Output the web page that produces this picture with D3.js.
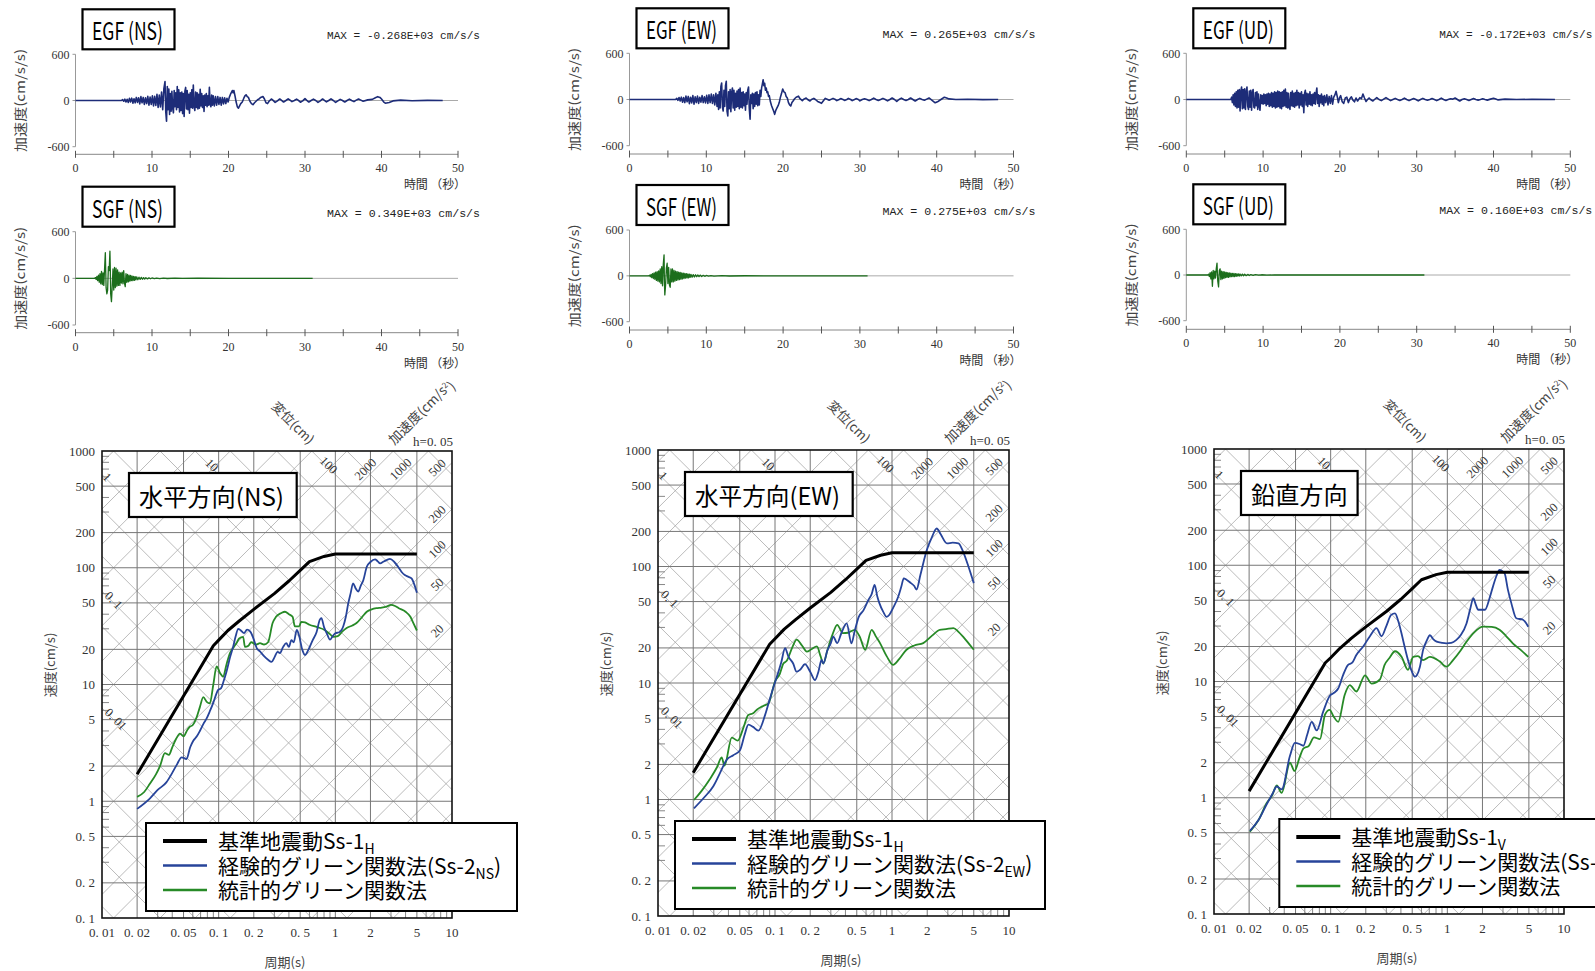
<!DOCTYPE html>
<html><head><meta charset="utf-8">
<script src="https://cdn.jsdelivr.net/npm/d3@7"></script>
<style>body{margin:0;background:#fff;overflow:hidden}svg{display:block}</style>
</head><body><svg id="c" width="1595" height="971"></svg>
<script>
// ---------------- DATA ----------------
// Time histories [time (s), acceleration (cm/s/s)]
const egfNS = [[0,0],[6.0,0],[6.15,12],[6.3,-10],[6.45,18],[6.6,-20],[6.75,15],[6.9,-25],[7.05,28],[7.2,-18],[7.35,30],[7.5,-35],[7.65,22],[7.8,-30],[7.95,40],[8.1,-25],[8.25,35],[8.4,-45],[8.55,50],[8.7,-30],[8.85,40],[9.0,-50],[9.15,35],[9.3,-40],[9.45,55],[9.6,-60],[9.75,45],[9.9,-50],[10.05,60],[10.2,-70],[10.35,55],[10.5,-65],[10.65,80],[10.8,-90],[10.95,70],[11.1,-85],[11.25,110],[11.4,-120],[11.55,150],[11.7,245],[11.8,-150],[11.9,-268],[12.0,180],[12.1,-120],[12.2,150],[12.3,-180],[12.4,90],[12.5,-140],[12.6,120],[12.7,-100],[12.8,-160],[12.9,130],[13.0,-80],[13.1,100],[13.2,-120],[13.3,180],[13.4,-90],[13.5,140],[13.6,-150],[13.7,100],[13.8,-130],[13.9,110],[14.0,-170],[14.1,90],[14.2,-207],[14.3,120],[14.4,170],[14.5,-110],[14.6,130],[14.7,-120],[14.8,80],[14.9,-164],[15.0,100],[15.1,-90],[15.2,140],[15.3,-100],[15.4,200],[15.5,-80],[15.6,-130],[15.7,110],[15.8,-90],[15.9,100],[16.0,-110],[16.1,80],[16.2,-100],[16.3,147],[16.4,-70],[16.5,90],[16.6,-90],[16.7,60],[16.8,-142],[16.9,70],[17.0,-60],[17.1,90],[17.2,-80],[17.3,60],[17.4,-60],[17.5,170],[17.6,-50],[17.7,-80],[17.8,70],[17.9,-60],[18.0,60],[18.15,-70],[18.3,50],[18.45,-60],[18.6,50],[18.75,-50],[18.9,40],[19.05,-60],[19.2,40],[19.35,-45],[19.5,35],[19.65,-40],[19.8,30],[19.95,-20],[20.1,40],[20.3,90],[20.5,130],[20.6,100],[20.7,130],[20.85,60],[21.0,-20],[21.15,-80],[21.3,-100],[21.45,-70],[21.6,-40],[21.8,-20],[22.0,30],[22.15,60],[22.3,75],[22.45,50],[22.6,40],[22.8,-10],[23.0,-40],[23.2,-55],[23.4,-30],[23.6,-10],[23.8,10],[24.0,20],[24.2,40],[24.5,52],[24.7,20],[24.9,-30],[25.1,-40],[25.3,-10],[25.6,20],[25.8,5],[26.1,-25],[26.4,-5],[26.7,20],[26.9,5],[27.2,-20],[27.5,0],[27.8,22],[28.0,8],[28.3,-15],[28.6,0],[28.9,18],[29.1,5],[29.4,-22],[29.7,-5],[30.0,25],[30.2,5],[30.5,-20],[30.8,0],[31.1,18],[31.4,0],[31.7,-25],[32.0,-5],[32.3,20],[32.5,5],[32.8,-18],[33.1,0],[33.4,22],[33.7,0],[34.0,-25],[34.3,-5],[34.6,15],[34.9,0],[35.2,-20],[35.5,0],[35.8,18],[36.1,0],[36.4,-15],[36.7,5],[37.0,20],[37.3,5],[37.6,-10],[38.2,8],[38.8,15],[39.2,35],[39.5,50],[39.8,40],[40.0,20],[40.3,-20],[40.5,-35],[41.0,-25],[41.5,-5],[42.5,5],[44,-3],[46,2],[48,0]];
const egfEW = [[0,0],[6.0,0],[6.15,15],[6.3,-12],[6.45,25],[6.6,-20],[6.75,30],[6.9,-35],[7.05,25],[7.2,-40],[7.35,45],[7.5,-30],[7.65,40],[7.8,-55],[7.95,30],[8.1,-45],[8.25,50],[8.4,-60],[8.55,35],[8.7,-40],[8.85,45],[9.0,-50],[9.15,30],[9.3,-35],[9.45,50],[9.6,-40],[9.75,35],[9.9,-45],[10.05,55],[10.2,-50],[10.35,60],[10.5,-40],[10.65,70],[10.8,-50],[10.95,60],[11.1,-70],[11.25,80],[11.4,-90],[11.5,60],[11.6,-130],[11.7,100],[11.8,-110],[11.9,170],[12.0,214],[12.1,-100],[12.2,-150],[12.3,120],[12.4,-90],[12.5,180],[12.6,236],[12.7,-150],[12.8,-214],[12.9,100],[13.0,-120],[13.1,130],[13.2,-160],[13.3,90],[13.4,150],[13.5,-110],[13.6,120],[13.7,-140],[13.8,80],[13.9,-100],[14.0,110],[14.1,-90],[14.2,130],[14.3,-120],[14.4,150],[14.5,-100],[14.6,90],[14.7,-110],[14.8,100],[14.9,-80],[15.0,70],[15.1,-140],[15.2,90],[15.3,-60],[15.4,120],[15.5,163],[15.6,-120],[15.7,-257],[15.8,60],[15.9,-50],[16.0,80],[16.1,-120],[16.2,70],[16.3,-90],[16.4,90],[16.5,-60],[16.6,100],[16.7,-80],[16.8,60],[16.9,-70],[17.0,120],[17.1,40],[17.2,150],[17.3,200],[17.4,257],[17.5,180],[17.6,210],[17.7,120],[17.8,150],[17.9,90],[18.0,100],[18.1,40],[18.2,50],[18.35,-30],[18.5,-80],[18.65,-120],[18.8,-160],[18.9,-193],[19.05,-140],[19.2,-110],[19.35,-80],[19.5,-40],[19.65,30],[19.8,80],[19.95,137],[20.1,100],[20.25,90],[20.4,40],[20.55,20],[20.7,-40],[20.85,-70],[21.0,-85],[21.15,-40],[21.3,-20],[21.5,10],[21.7,30],[22.0,43],[22.2,10],[22.5,-15],[22.7,5],[23.0,20],[23.2,0],[23.5,-20],[23.7,0],[24.0,15],[24.2,0],[24.5,-25],[24.8,-40],[25.0,-50],[25.3,-10],[25.5,15],[25.8,0],[26.0,-10],[26.3,5],[26.5,15],[26.8,0],[27.0,-15],[27.3,0],[27.5,12],[27.8,0],[28.0,-12],[28.3,0],[28.5,15],[28.8,0],[29.0,-15],[29.3,0],[29.5,12],[29.8,0],[30.0,-18],[30.3,0],[30.6,10],[30.9,0],[31.2,-15],[31.5,0],[31.8,18],[32.1,0],[32.4,-12],[32.7,0],[33.0,15],[33.3,0],[33.6,-18],[33.9,0],[34.2,20],[34.5,0],[34.8,-25],[35.1,0],[35.4,18],[35.7,0],[36.0,-12],[36.3,0],[36.6,20],[36.9,0],[37.2,-20],[37.5,0],[37.8,15],[38.1,0],[38.4,-10],[38.7,5],[39.0,20],[39.4,-10],[39.8,-43],[40.1,-30],[40.4,-10],[40.7,10],[41.0,30],[41.3,20],[41.6,8],[42.5,0],[44,3],[46,-2],[48,0]];
const egfUD = [[0,0],[5.8,0],[5.9,30],[6.0,-40],[6.1,60],[6.2,-70],[6.3,80],[6.4,-90],[6.5,100],[6.6,-110],[6.7,120],[6.8,-100],[6.9,130],[7.0,-150],[7.1,110],[7.2,163],[7.3,-120],[7.4,130],[7.5,-110],[7.6,140],[7.7,-130],[7.8,100],[7.9,163],[8.0,-90],[8.1,-130],[8.2,110],[8.3,-100],[8.4,120],[8.5,-140],[8.6,90],[8.7,130],[8.8,-100],[8.9,-110],[9.0,90],[9.1,-80],[9.2,100],[9.3,-130],[9.4,70],[9.5,-90],[9.6,-140],[9.7,60],[9.8,-50],[9.9,50],[10.0,-60],[10.1,70],[10.2,-50],[10.3,60],[10.4,-80],[10.5,70],[10.6,-60],[10.7,80],[10.8,-90],[10.9,70],[11.0,-80],[11.1,90],[11.2,-100],[11.3,80],[11.4,-90],[11.5,100],[11.6,-110],[11.7,90],[11.8,-100],[11.9,110],[12.0,-90],[12.1,100],[12.2,-110],[12.3,90],[12.4,-120],[12.5,100],[12.6,-90],[12.7,120],[12.8,-80],[12.9,137],[13.0,-100],[13.1,90],[13.2,-110],[13.3,80],[13.4,-100],[13.5,-128],[13.6,90],[13.7,-80],[13.8,110],[13.9,-90],[14.0,80],[14.1,-100],[14.2,90],[14.3,-80],[14.4,120],[14.5,-70],[14.6,90],[14.7,-110],[14.8,80],[14.9,-70],[15.0,100],[15.1,-90],[15.2,60],[15.3,-172],[15.4,80],[15.5,120],[15.6,-70],[15.7,80],[15.8,-90],[15.9,70],[16.0,-60],[16.1,100],[16.2,-70],[16.3,60],[16.4,-80],[16.5,70],[16.6,-50],[16.7,90],[16.8,-60],[16.9,80],[17.0,150],[17.1,-50],[17.2,60],[17.3,-90],[17.4,50],[17.5,-40],[17.6,70],[17.7,-60],[17.8,40],[17.9,-80],[18.0,50],[18.15,-40],[18.3,60],[18.45,-70],[18.6,40],[18.75,-50],[18.9,50],[19.05,-60],[19.2,30],[19.35,60],[19.5,107],[19.65,40],[19.8,-40],[19.95,20],[20.1,50],[20.3,-30],[20.5,-50],[20.7,20],[20.9,30],[21.1,-40],[21.3,10],[21.5,35],[21.7,-10],[21.9,-30],[22.1,20],[22.3,-20],[22.6,25],[22.8,10],[23.0,70],[23.2,20],[23.4,-25],[23.6,0],[23.8,20],[24.0,0],[24.3,-20],[24.5,0],[24.8,25],[25.1,0],[25.4,-15],[25.7,5],[26.0,25],[26.3,5],[26.6,-15],[26.9,0],[27.2,15],[27.5,0],[27.8,-12],[28.1,0],[28.4,18],[28.7,0],[29.0,-15],[29.3,0],[29.6,12],[29.9,0],[30.2,-18],[30.5,0],[30.8,15],[31.1,0],[31.4,-10],[31.7,0],[32.0,12],[32.3,0],[32.6,-15],[32.9,0],[33.2,18],[33.5,0],[33.8,-12],[34.1,0],[34.4,10],[34.7,5],[35.0,20],[35.3,0],[35.6,-20],[35.9,0],[36.2,10],[36.5,0],[36.8,-12],[37.1,0],[37.4,12],[37.7,0],[38.0,-8],[38.3,0],[38.6,10],[38.9,0],[39.2,-8],[39.6,5],[40.0,15],[40.3,5],[40.6,-5],[41.5,5],[43,0],[45,2],[48,0]];
const sgfNS = [[0,0],[2.5,0],[2.6,10],[2.7,-15],[2.8,25],[2.9,-30],[3.0,40],[3.1,-50],[3.2,60],[3.3,-70],[3.4,90],[3.5,-80],[3.6,70],[3.7,-90],[3.8,120],[3.9,330],[3.95,100],[4.0,-120],[4.1,-200],[4.2,-150],[4.3,150],[4.4,100],[4.5,349],[4.55,120],[4.6,-200],[4.7,-300],[4.8,-100],[4.9,120],[5.0,-150],[5.1,140],[5.2,-120],[5.3,130],[5.4,-100],[5.5,110],[5.6,-90],[5.7,80],[5.8,-90],[5.9,70],[6.0,-60],[6.1,80],[6.2,-70],[6.3,100],[6.4,-60],[6.5,-107],[6.6,60],[6.7,-50],[6.8,50],[6.9,-45],[7.0,40],[7.1,-35],[7.2,38],[7.3,-30],[7.4,30],[7.5,-28],[7.6,25],[7.7,-25],[7.8,22],[7.9,-20],[8.0,20],[8.15,-18],[8.3,15],[8.45,-14],[8.6,12],[8.75,-12],[8.9,10],[9.05,-9],[9.2,8],[9.4,-7],[9.6,6],[9.8,-5],[10.0,5],[10.3,-4],[10.6,4],[11.0,-3],[11.5,3],[12,-2],[13,2],[14,-1],[16,1],[20,0],[31,0]];
const sgfEW = [[0,0],[2.5,0],[2.6,8],[2.7,-12],[2.8,18],[2.9,-22],[3.0,30],[3.1,-35],[3.2,40],[3.3,-45],[3.4,50],[3.5,-60],[3.6,55],[3.7,-70],[3.8,65],[3.9,-80],[4.0,90],[4.1,-100],[4.2,120],[4.3,-130],[4.4,150],[4.5,275],[4.55,-100],[4.6,-250],[4.7,-120],[4.8,100],[4.9,165],[5.0,-100],[5.1,110],[5.2,-120],[5.3,-150],[5.4,90],[5.5,-80],[5.6,90],[5.7,-80],[5.8,70],[5.9,-70],[6.0,60],[6.1,-60],[6.2,55],[6.3,-55],[6.4,50],[6.5,-50],[6.6,45],[6.7,-45],[6.8,40],[6.9,-40],[7.0,35],[7.1,-35],[7.2,32],[7.3,-30],[7.4,30],[7.5,-28],[7.6,25],[7.7,-25],[7.8,22],[7.9,-20],[8.0,20],[8.15,-18],[8.3,16],[8.45,-15],[8.6,14],[8.75,-12],[8.9,12],[9.05,-10],[9.2,10],[9.4,-8],[9.6,7],[9.8,-6],[10.0,5],[10.3,-4],[10.6,4],[11,-3],[12,2],[13,-2],[15,1],[20,0],[31,0]];
const sgfUD = [[0,0],[2.8,0],[2.9,10],[3.0,-20],[3.1,30],[3.2,-50],[3.3,40],[3.4,-148],[3.5,60],[3.6,-50],[3.7,50],[3.8,-40],[3.9,80],[4.0,157],[4.05,20],[4.1,-80],[4.2,-157],[4.3,60],[4.4,80],[4.5,-60],[4.6,50],[4.7,-50],[4.8,45],[4.9,-45],[5.0,40],[5.1,-35],[5.2,35],[5.3,-30],[5.4,30],[5.5,-30],[5.6,28],[5.7,-25],[5.8,25],[5.9,-22],[6.0,22],[6.1,-20],[6.2,20],[6.3,-20],[6.4,18],[6.5,-18],[6.6,16],[6.7,-15],[6.8,15],[6.9,-14],[7.0,13],[7.15,-12],[7.3,12],[7.45,-10],[7.6,10],[7.8,-9],[8.0,8],[8.2,-7],[8.4,6],[8.7,-5],[9.0,4],[9.4,-3],[9.8,3],[10.5,-2],[11.5,1],[15,0],[31,0]];

// Pseudo-velocity response spectra [period (s), velocity (cm/s)]
const ss1H = [[0.02,1.7],[0.09,21.5],[0.1,24],[0.12,29],[0.15,35],[0.2,44],[0.3,60],[0.4,77],[0.5,95],[0.6,113],[0.8,125],[1.0,131],[5.0,131]];
const ss1V = [[0.02,1.14],[0.09,14.5],[0.1,16],[0.12,19.3],[0.15,23.5],[0.2,29.5],[0.3,40],[0.4,51],[0.5,63],[0.6,75],[0.8,83],[1.0,87],[5.0,87]];
const egfSpecNS = [[0.020,0.86],[0.0258,1.06],[0.030,1.25],[0.0356,1.45],[0.040,1.75],[0.0437,2.05],[0.0482,2.38],[0.053,2.3],[0.057,2.9],[0.0606,3.3],[0.065,3.6],[0.069,4.0],[0.074,4.6],[0.0787,5.1],[0.084,5.9],[0.09,7.0],[0.095,8.2],[0.099,9.0],[0.105,9.3],[0.110,10.6],[0.117,13],[0.125,17],[0.133,21],[0.140,26],[0.147,30],[0.155,29],[0.165,27.5],[0.175,29.5],[0.186,28.5],[0.198,25],[0.212,20.5],[0.226,19.2],[0.245,17.5],[0.265,16.3],[0.284,15.6],[0.30,17],[0.32,19],[0.335,18.6],[0.357,21],[0.38,22.6],[0.40,21],[0.42,24],[0.44,23],[0.467,29.3],[0.49,26],[0.52,20],[0.55,17.9],[0.59,20],[0.64,24],[0.69,28],[0.735,35.8],[0.76,37],[0.80,31],[0.85,27],[0.90,24.2],[0.95,26],[1.0,27.5],[1.08,28],[1.17,31.5],[1.23,38],[1.29,49.5],[1.35,60],[1.42,73.5],[1.50,66],[1.57,62.5],[1.65,70],[1.74,78.6],[1.86,102],[2.0,112],[2.19,118],[2.3,114],[2.42,109],[2.6,113],[2.94,119],[3.2,112],[3.45,102],[3.7,92],[3.94,86.6],[4.2,84],[4.5,81],[4.75,72],[5.0,61]];
const sgfSpecNS = [[0.020,1.09],[0.023,1.2],[0.0258,1.42],[0.029,1.7],[0.0314,2.0],[0.0346,2.58],[0.0375,2.5],[0.040,2.9],[0.043,3.4],[0.0466,3.8],[0.050,3.6],[0.054,4.1],[0.0567,4.35],[0.060,4.5],[0.0646,5.2],[0.069,6.4],[0.0738,7.8],[0.079,7.1],[0.084,6.9],[0.090,10],[0.096,14.3],[0.103,12.5],[0.109,11.7],[0.117,15],[0.125,18.6],[0.135,21],[0.142,22.6],[0.150,24.8],[0.162,25.6],[0.168,21],[0.18,21.5],[0.19,23],[0.21,22],[0.226,22.6],[0.245,22],[0.265,23],[0.29,33.6],[0.31,38],[0.345,41],[0.37,42],[0.40,40],[0.43,38],[0.45,31.5],[0.49,31.5],[0.51,34.4],[0.55,34],[0.6,32.5],[0.7,31],[0.81,29.3],[0.9,27],[0.96,25.6],[1.05,26],[1.15,28.5],[1.25,30.5],[1.4,32],[1.52,33.6],[1.7,38],[1.86,42],[2.05,44],[2.25,45],[2.5,45.5],[2.74,46.4],[3.0,48],[3.25,47],[3.5,45],[4.0,42],[4.4,38],[4.7,33],[5.0,29]];
const egfSpecEW = [[0.0203,0.84],[0.025,1.05],[0.0297,1.3],[0.034,1.7],[0.0387,2.2],[0.044,2.4],[0.0502,2.65],[0.055,3.6],[0.0592,4.4],[0.065,4.2],[0.072,3.9],[0.0822,5.3],[0.09,7.2],[0.0972,9.3],[0.104,11.4],[0.113,15],[0.122,19.9],[0.13,16.9],[0.143,14.7],[0.153,12.5],[0.164,13],[0.18,14.5],[0.2,12.5],[0.22,10.6],[0.235,12.5],[0.25,15.8],[0.259,14.7],[0.28,19],[0.3,22],[0.315,25],[0.34,22],[0.37,27],[0.41,32.5],[0.45,21.9],[0.48,28],[0.52,37],[0.57,42],[0.63,51.8],[0.67,58],[0.71,69.4],[0.75,55],[0.78,48.5],[0.84,41],[0.90,37],[0.95,38.5],[1.02,44],[1.13,55],[1.2,67],[1.26,79],[1.33,77],[1.45,72],[1.55,68],[1.62,63.4],[1.75,85],[1.98,138],[2.2,180],[2.41,212],[2.6,190],[2.95,158],[3.3,160],[3.7,158],[4.05,134],[4.5,100],[5.0,72]];
const sgfSpecEW = [[0.0203,0.99],[0.0235,1.18],[0.0278,1.5],[0.032,1.9],[0.035,2.3],[0.037,1.95],[0.0427,3.4],[0.048,3.2],[0.054,4.2],[0.059,5.3],[0.065,5.5],[0.07,5.9],[0.078,6.3],[0.088,6.7],[0.1,10.3],[0.11,12],[0.118,14.7],[0.126,15.5],[0.14,20],[0.153,23.6],[0.17,21],[0.187,18.6],[0.205,19.5],[0.228,20.6],[0.245,17],[0.259,14.7],[0.28,19],[0.31,26],[0.34,31.6],[0.38,26.8],[0.42,27],[0.48,28.6],[0.53,25],[0.59,19.3],[0.67,28.6],[0.73,25],[0.79,22],[0.9,17],[1.02,14.3],[1.15,16],[1.33,19.3],[1.55,21],[1.85,22],[2.2,25.5],[2.56,28.6],[2.9,29],[3.35,29.6],[3.7,27.5],[4.05,25],[4.5,22],[5.0,19.3]];
const egfSpecUD = [[0.0203,0.52],[0.024,0.64],[0.0283,0.88],[0.032,1.1],[0.0345,1.25],[0.038,1.18],[0.0448,2.3],[0.0494,2.96],[0.054,2.9],[0.0583,2.8],[0.063,3.5],[0.0688,4.5],[0.0759,3.8],[0.0863,5.5],[0.098,7.5],[0.107,8],[0.116,8.7],[0.128,11.4],[0.141,13.9],[0.153,14.5],[0.166,16.9],[0.19,20],[0.217,24.5],[0.247,28.8],[0.273,24.5],[0.30,30],[0.33,37.4],[0.356,38.5],[0.38,33],[0.405,25.9],[0.43,20],[0.46,15.3],[0.5,12],[0.528,11],[0.582,13.4],[0.62,18.7],[0.66,22],[0.71,25],[0.76,23],[0.81,22],[0.9,21.5],[0.98,21.3],[1.08,21.5],[1.19,22.7],[1.3,25],[1.46,31.6],[1.57,42],[1.67,52],[1.75,46],[1.84,41.4],[2.1,41.4],[2.3,52],[2.46,65.5],[2.65,82],[2.8,91],[3.0,88],[3.1,85],[3.3,62],[3.54,47],[3.9,35],[4.45,34],[4.94,29.6]];
const sgfSpecUD = [[0.0203,0.51],[0.024,0.64],[0.0283,0.9],[0.0315,1.05],[0.0345,1.28],[0.038,1.1],[0.0448,2.0],[0.049,1.7],[0.054,2.2],[0.0583,2.65],[0.065,2.8],[0.072,3.3],[0.081,3.2],[0.0895,5.2],[0.098,5.7],[0.106,5.0],[0.116,4.5],[0.132,7.7],[0.146,9.3],[0.166,8.2],[0.197,11.3],[0.224,9.6],[0.264,10.4],[0.29,13.9],[0.32,16],[0.356,18.2],[0.405,16.3],[0.46,12.6],[0.51,16.3],[0.56,16.5],[0.62,15.3],[0.71,16.3],[0.86,14.9],[0.98,13.4],[1.12,15.3],[1.3,18.5],[1.46,22],[1.7,26.5],[2.03,29.6],[2.4,29.5],[2.8,27.9],[3.2,24.5],[3.64,21.3],[4.3,18.5],[4.94,16.3]];

// Text / tick values
const components = ['NS','EW','UD'];
const egfMax = ['MAX = -0.268E+03 cm/s/s','MAX =  0.265E+03 cm/s/s','MAX = -0.172E+03 cm/s/s'];
const sgfMax = ['MAX =  0.349E+03 cm/s/s','MAX =  0.275E+03 cm/s/s','MAX =  0.160E+03 cm/s/s'];
const specTitles = ['水平方向(NS)','水平方向(EW)','鉛直方向'];
const ssNames = ['H','H','V'];
const egfNames = ['NS','EW','UD'];
const accTicks = [600,0,-600];
const timeTicks = [0,5,10,15,20,25,30,35,40,45,50];
const periodTicks = [0.01,0.02,0.05,0.1,0.2,0.5,1,2,5,10];
const periodLabels = ['0. 01','0. 02','0. 05','0. 1','0. 2','0. 5','1','2','5','10'];
const velTicks = [1000,500,200,100,50,20,10,5,2,1,0.5,0.2,0.1];
const velLabels = ['1000','500','200','100','50','20','10','5','2','1','0. 5','0. 2','0. 1'];
const dispLines = [0.0002,0.0005,0.001,0.002,0.005,0.01,0.02,0.05,0.1,0.2,0.5,1,2,5,10,20,50,100,200,500,1000];
const accLines = [0.1,0.2,0.5,1,2,5,10,20,50,100,200,500,1000,2000,5000,10000,20000,50000,100000,200000,500000];
const dispLeftLabels = [[1,'1'],[0.1,'0. 1'],[0.01,'0. 01']];
const dispTopLabels = [[10,'10'],[100,'100']];
const accTopLabels = [2000,1000];
const accRightLabels = [500,200,100,50,20];

// ---------------- LAYOUT ----------------
const serif = '"Liberation Serif","DejaVu Serif",serif';
const jp = '"Noto Sans CJK JP","Noto Sans CJK SC",sans-serif';
const mono = '"Liberation Mono","DejaVu Sans Mono",monospace';
const egfColor = '#1d2c78', sgfColor = '#1c6e1c', blueC = '#27449a', greenC = '#278a27';

const tsLayout = [
  {x0:75.5, x50:458, egf:{top:54.3,bot:146.7,axis:154.3}, sgf:{top:231.7,bot:325,axis:332.7}},
  {x0:629.5, x50:1013.5, egf:{top:53.3,bot:145.7,axis:154}, sgf:{top:230,bot:321.7,axis:330}},
  {x0:1186.3, x50:1570.3, egf:{top:53.3,bot:145.7,axis:154}, sgf:{top:229.3,bot:320.7,axis:329.3}}
];
const spLayout = [
  {L:102,R:452,T:451,B:918, legX:146, legW:371, titleW:167.7, titleTL:145},
  {L:658,R:1009,T:450,B:916, legX:675, legW:370, titleW:167.7, titleTL:145},
  {L:1214,R:1564,T:449,B:914, legX:1279.3, legW:340, titleW:116.6, titleTL:96.7}
];

const svg = d3.select('#c');
svg.append('rect').attr('width',1595).attr('height',971).attr('fill','#fff');

function timePanel(x0, x50, lay, data, color, label, maxText, sw){
  const g = svg.append('g');
  const x = d3.scaleLinear().domain([0,50]).range([x0,x50]);
  const y = d3.scaleLinear().domain([-600,600]).range([lay.bot,lay.top]);
  g.append('rect').attr('x',x0+7).attr('y',lay.top-45).attr('width',92).attr('height',40)
    .attr('fill','#fff').attr('stroke','#000').attr('stroke-width',2.2);
  g.append('text').attr('x',x0+52).attr('y',lay.top-14).attr('text-anchor','middle')
    .attr('font-family',jp).attr('font-size',24).attr('textLength',71).attr('lengthAdjust','spacingAndGlyphs')
    .text(label);
  g.append('text').attr('x',x50+22).attr('y',lay.top-15).attr('text-anchor','end')
    .attr('font-family',mono).attr('font-size',11).attr('fill','#222')
    .attr('textLength',153).attr('lengthAdjust','spacingAndGlyphs').text(maxText);
  g.append('line').attr('x1',x(0)).attr('x2',x(50)).attr('y1',y(0)).attr('y2',y(0)).attr('stroke','#aaa').attr('stroke-width',1);
  g.append('line').attr('x1',x0).attr('x2',x0).attr('y1',lay.top).attr('y2',lay.bot).attr('stroke','#999').attr('stroke-width',1);
  accTicks.forEach(v=>{
    g.append('line').attr('x1',x0-3).attr('x2',x0).attr('y1',y(v)).attr('y2',y(v)).attr('stroke','#999');
    g.append('text').attr('x',x0-6).attr('y',y(v)).attr('dy','0.35em').attr('text-anchor','end')
      .attr('font-family',serif).attr('font-size',12).attr('fill','#333').text(v);
  });
  g.append('line').attr('x1',x(0)).attr('x2',x(50)).attr('y1',lay.axis).attr('y2',lay.axis).attr('stroke','#888');
  timeTicks.forEach(t=>{
    g.append('line').attr('x1',x(t)).attr('x2',x(t)).attr('y1',lay.axis-3.5).attr('y2',lay.axis+3.5).attr('stroke','#555');
    if(t%10===0) g.append('text').attr('x',x(t)).attr('y',lay.axis+18).attr('text-anchor','middle')
      .attr('font-family',serif).attr('font-size',12).attr('fill','#333').text(t);
  });
  g.append('text').attr('x',x50+8).attr('y',lay.axis+35).attr('text-anchor','end')
    .attr('font-family',jp).attr('font-size',12).attr('fill','#333').attr('textLength',62).text('時間 （秒）');
  g.append('text').attr('transform',`translate(${x0-55},${y(0)}) rotate(-90)`).attr('text-anchor','middle').attr('dy','0.35em')
    .attr('font-family',jp).attr('font-size',13).attr('fill','#444').attr('textLength',103).attr('lengthAdjust','spacingAndGlyphs')
    .text('加速度(cm/s/s)');
  const line = d3.line().x(d=>x(d[0])).y(d=>y(d[1]));
  g.append('path').datum(data).attr('d',line).attr('fill','none').attr('stroke',color).attr('stroke-width',sw).attr('stroke-linejoin','round');
}

const egfs = [egfNS, egfEW, egfUD], sgfs = [sgfNS, sgfEW, sgfUD];
components.forEach((c,i)=>{
  const L = tsLayout[i];
  timePanel(L.x0, L.x50, L.egf, egfs[i], egfColor, `EGF (${c})`, egfMax[i], 1.6);
  timePanel(L.x0, L.x50, L.sgf, sgfs[i], sgfColor, `SGF (${c})`, sgfMax[i], 1.3);
});

// ---------------- SPECTRA ----------------
const ssData = [ss1H, ss1H, ss1V];
const egfSpecs = [egfSpecNS, egfSpecEW, egfSpecUD];
const sgfSpecs = [sgfSpecNS, sgfSpecEW, sgfSpecUD];
const TWO_PI = 2*Math.PI;

function specPanel(i){
  const P = spLayout[i];
  const g = svg.append('g');
  const x = d3.scaleLog().domain([0.01,10]).range([P.L,P.R]);
  const y = d3.scaleLog().domain([0.1,1000]).range([P.B,P.T]);
  const cid = 'clip'+i;
  svg.append('clipPath').attr('id',cid).append('rect').attr('x',P.L).attr('y',P.T).attr('width',P.R-P.L).attr('height',P.B-P.T);
  const gc = g.append('g').attr('clip-path',`url(#${cid})`);
  dispLines.forEach(D=>{
    gc.append('line').attr('x1',x(0.01)).attr('y1',y(TWO_PI*D/0.01)).attr('x2',x(10)).attr('y2',y(TWO_PI*D/10))
      .attr('stroke','#a4a4a4').attr('stroke-width',0.75);
  });
  accLines.forEach(A=>{
    gc.append('line').attr('x1',x(0.01)).attr('y1',y(A*0.01/TWO_PI)).attr('x2',x(10)).attr('y2',y(A*10/TWO_PI))
      .attr('stroke','#a4a4a4').attr('stroke-width',0.75);
  });
  periodTicks.slice(1,-1).forEach(t=>{
    gc.append('line').attr('x1',x(t)).attr('x2',x(t)).attr('y1',P.T).attr('y2',P.B).attr('stroke','#777').attr('stroke-width',1);
  });
  velTicks.slice(1,-1).forEach(v=>{
    gc.append('line').attr('y1',y(v)).attr('y2',y(v)).attr('x1',P.L).attr('x2',P.R).attr('stroke','#777').attr('stroke-width',1);
  });
  [0.1,1,10,100].forEach(dec=>[3,4,6,7,8,9].forEach(m=>{
    gc.append('line').attr('x1',P.L).attr('x2',P.L+7).attr('y1',y(dec*m)).attr('y2',y(dec*m)).attr('stroke','#888');
  }));
  [0.01,0.1,1].forEach(dec=>[3,4,6,7,8,9].forEach(m=>{
    gc.append('line').attr('x1',x(dec*m)).attr('x2',x(dec*m)).attr('y1',P.B).attr('y2',P.B-7).attr('stroke','#888');
  }));
  const smooth = d3.line().x(d=>x(d[0])).y(d=>y(d[1])).curve(d3.curveMonotoneX);
  const straight = d3.line().x(d=>x(d[0])).y(d=>y(d[1]));
  gc.append('path').datum(sgfSpecs[i]).attr('d',smooth).attr('fill','none').attr('stroke',greenC).attr('stroke-width',1.8);
  gc.append('path').datum(egfSpecs[i]).attr('d',smooth).attr('fill','none').attr('stroke',blueC).attr('stroke-width',1.8);
  gc.append('path').datum(ssData[i]).attr('d',straight).attr('fill','none').attr('stroke','#000').attr('stroke-width',3).attr('stroke-linejoin','round');
  g.append('rect').attr('x',P.L).attr('y',P.T).attr('width',P.R-P.L).attr('height',P.B-P.T).attr('fill','none').attr('stroke','#111').attr('stroke-width',1.6);
  periodTicks.forEach((t,k)=>{
    g.append('text').attr('x',x(t)).attr('y',P.B+19).attr('text-anchor','middle').attr('font-family',serif).attr('font-size',13).attr('fill','#333').text(periodLabels[k]);
  });
  velTicks.forEach((v,k)=>{
    g.append('text').attr('x',P.L-7).attr('y',y(v)).attr('dy','0.35em').attr('text-anchor','end').attr('font-family',serif).attr('font-size',13).attr('fill','#333').text(velLabels[k]);
  });
  const lab = (px,py,rot,txt)=>g.append('text').attr('transform',`translate(${px},${py}) rotate(${rot})`).attr('text-anchor','middle').attr('dy','0.35em')
      .attr('font-family',serif).attr('font-size',12.5).attr('fill','#333').text(txt);
  dispLeftLabels.forEach(([D,t])=>{
    const px = P.L + 3 + t.length*2.2;
    lab(px, y(TWO_PI*D/x.invert(px)) - 3, 45, t);
  });
  dispTopLabels.forEach(([D,t])=>{
    const sv = y.invert(P.T+17);
    lab(x(TWO_PI*D/sv), P.T+14, 45, t);
  });
  accTopLabels.forEach(A=>{
    const sv = y.invert(P.T+28);
    lab(x(TWO_PI*sv/A), P.T+18, -45, A);
  });
  accRightLabels.forEach(A=>{
    const px = P.R-15;
    lab(px, y(A*x.invert(px)/TWO_PI) - 10, -45, A);
  });
  g.append('text').attr('transform',`translate(${P.L+191},${P.T-28}) rotate(45)`).attr('text-anchor','middle').attr('dy','0.35em')
    .attr('font-family',jp).attr('font-size',13).attr('fill','#444').text('変位(cm)');
  const at = g.append('text').attr('transform',`translate(${P.L+319},${P.T-39}) rotate(-45)`).attr('text-anchor','middle').attr('dy','0.35em')
    .attr('font-family',jp).attr('font-size',13.5).attr('fill','#444');
  at.append('tspan').text('加速度(cm/s');
  at.append('tspan').attr('dy','-0.5em').attr('font-size',8).text('2');
  at.append('tspan').attr('dy','0.5em').text(')');
  g.append('text').attr('x',P.R-19).attr('y',P.T-10).attr('text-anchor','middle').attr('dy','0.35em')
    .attr('font-family',serif).attr('font-size',13).attr('fill','#333').text('h=0. 05');
  g.append('text').attr('transform',`translate(${P.L-52},${P.T+214}) rotate(-90)`).attr('text-anchor','middle').attr('dy','0.35em')
    .attr('font-family',jp).attr('font-size',13).attr('fill','#444').text('速度(cm/s)');
  g.append('text').attr('x',P.L+183).attr('y',P.B+44).attr('text-anchor','middle').attr('dy','0.35em')
    .attr('font-family',jp).attr('font-size',13).attr('fill','#444').text('周期(s)');
  g.append('rect').attr('x',P.L+27).attr('y',P.T+22).attr('width',P.titleW).attr('height',44).attr('fill','#fff').attr('stroke','#000').attr('stroke-width',2.2);
  g.append('text').attr('x',P.L+37).attr('y',P.T+55).attr('font-family',jp).attr('font-size',24)
    .attr('textLength',P.titleTL).attr('lengthAdjust','spacingAndGlyphs').text(specTitles[i]);
  const ly = P.B-95;
  g.append('rect').attr('x',P.legX).attr('y',ly).attr('width',P.legW).attr('height',88).attr('fill','#fff').attr('stroke','#000').attr('stroke-width',2);
  const items = [['#000',4],[blueC,2.5],[greenC,2.5]];
  items.forEach(([c,w],k)=>{
    const yy = ly+18+k*24.5;
    g.append('line').attr('x1',P.legX+17).attr('x2',P.legX+61).attr('y1',yy).attr('y2',yy).attr('stroke',c).attr('stroke-width',w);
  });
  const tx = P.legX+72;
  const t1 = g.append('text').attr('x',tx).attr('y',ly+18+8).attr('font-family',jp).attr('font-size',21);
  t1.append('tspan').text('基準地震動Ss-1');
  t1.append('tspan').attr('dy',5).attr('font-size',14).text(ssNames[i]);
  const t2 = g.append('text').attr('x',tx).attr('y',ly+42.5+8).attr('font-family',jp).attr('font-size',21);
  t2.append('tspan').text('経験的グリーン関数法(Ss-2');
  t2.append('tspan').attr('dy',5).attr('font-size',14).text(egfNames[i]);
  t2.append('tspan').attr('dy',-5).text(')');
  g.append('text').attr('x',tx).attr('y',ly+67+8).attr('font-family',jp).attr('font-size',21).text('統計的グリーン関数法');
}
[0,1,2].forEach(specPanel);
</script></body></html>
